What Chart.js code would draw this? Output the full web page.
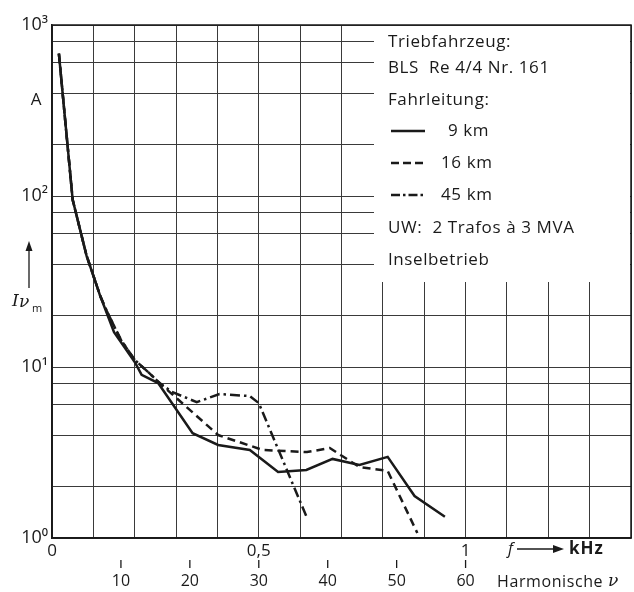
<!DOCTYPE html>
<html><head><meta charset="utf-8">
<style>html,body{margin:0;padding:0;background:#fff}#wrap{width:634px;height:592px;position:relative}</style>
</head><body><div id="wrap"><canvas id="c" width="634" height="592"></canvas></div>
<script src="https://cdn.jsdelivr.net/npm/chart.js@4.4.0/dist/chart.umd.min.js"></script>
<script>
// Harmonic number ν (fundamental 16 2/3 Hz) and current amplitude in A
const nu9km  = [1, 3, 5, 7, 9, 12, 13, 15.4, 20.4, 24.1, 28.7, 32.8, 36.9, 40.7, 44.6, 48.7, 52.6, 57];
const amp9km = [680, 95, 45, 26, 16, 10.7, 9.0, 8.06, 4.1, 3.5, 3.27, 2.43, 2.5, 2.9, 2.67, 2.98, 1.76, 1.33];

const nu16km  = [1, 3, 5, 7, 8, 10, 12, 14, 15.6, 24.1, 30.6, 37, 40.3, 44.6, 48.7, 53];
const amp16km = [680, 95, 45, 26, 21, 14.4, 11, 9.3, 8.06, 4.0, 3.27, 3.18, 3.36, 2.6, 2.47, 1.07];

const nu45km  = [1, 3, 5, 7, 8, 10, 12, 14, 15.6, 17.4, 21, 24.3, 28.7, 30, 37];
const amp45km = [680, 95, 45, 26, 21, 14.4, 11, 9.3, 8.06, 7.15, 6.23, 6.95, 6.76, 6.15, 1.31];

const yGridValues = [1, 2, 4, 6, 8, 10, 20, 40, 60, 80, 100, 200, 400, 600, 800, 1000];
const yDecadeLabels = {1: '10⁰', 10: '10¹', 100: '10²', 1000: '10³'};
const freqTickLabels = {0: '0', 30: '0,5', 60: '1'};   // ν 30 = 0,5 kHz, ν 60 = 1 kHz
const harmonicTicks = [10, 20, 30, 40, 50, 60];
const legendHeader = ['Triebfahrzeug:', 'BLS  Re 4/4 Nr. 161', 'Fahrleitung:'];
const seriesNames = ['9 km', '16 km', '45 km'];
const legendFooter = ['UW:  2 Trafos à 3 MVA', 'Inselbetrieb'];

const FONT = '"Open Sans", "DejaVu Sans", sans-serif';
const INK = '#1a1a1a';
const GRID = '#3a3a3a';

function pts(xs, ys) { return xs.map((x, i) => ({x: x, y: ys[i]})); }

const dashes = [[], [8, 5], [10, 4, 2.5, 4]];

const extras = {
  id: 'extras',
  beforeDatasetsDraw(chart) {
    const ctx = chart.ctx, a = chart.chartArea;
    ctx.save();
    ctx.fillStyle = '#fff';
    ctx.fillRect(374, a.top + 1, a.right - 374 - 1, 282 - a.top - 1);
    ctx.restore();
  },
  afterDraw(chart) {
    const ctx = chart.ctx, a = chart.chartArea;
    const xs = chart.scales.x;
    ctx.save();
    // frame
    ctx.strokeStyle = INK; ctx.lineWidth = 1.5;
    ctx.strokeRect(a.left, a.top, a.right - a.left, a.bottom - a.top);
    ctx.fillStyle = INK;
    ctx.textBaseline = 'middle';
    // legend text
    ctx.font = '17px ' + FONT;
    ctx.letterSpacing = '0.6px';
    ctx.textAlign = 'left';
    const lx = 388;
    ctx.fillText(legendHeader[0], lx, 42);
    ctx.fillText(legendHeader[1], lx, 68);
    ctx.fillText(legendHeader[2], lx, 100);
    const rows = [131, 163, 195];
    const txtX = [448, 441, 441];
    rows.forEach((y, i) => {
      ctx.save();
      ctx.strokeStyle = INK; ctx.lineWidth = 2.6;
      ctx.setLineDash(i === 0 ? [] : (i === 1 ? [8, 4] : [9, 3, 2.5, 3]));
      ctx.beginPath(); ctx.moveTo(391, y); ctx.lineTo(425, y); ctx.stroke();
      ctx.restore();
      ctx.fillText(seriesNames[i], txtX[i], y);
    });
    ctx.fillText(legendFooter[0], lx, 228);
    ctx.fillText(legendFooter[1], lx, 260);
    ctx.letterSpacing = '0px';
    // unit and axis title
    ctx.font = '17px ' + FONT;
    ctx.textAlign = 'center';
    ctx.fillText('A', 36, 100);
    ctx.lineWidth = 1.3; ctx.strokeStyle = INK;
    ctx.beginPath(); ctx.moveTo(29, 288); ctx.lineTo(29, 248); ctx.stroke();
    ctx.beginPath(); ctx.moveTo(29, 241); ctx.lineTo(25.5, 251); ctx.lineTo(32.5, 251); ctx.closePath(); ctx.fill();
    ctx.textAlign = 'left';
    ctx.font = 'italic 17px "DejaVu Serif", serif';
    ctx.fillText('I', 12, 302);
    ctx.fillText('ν', 19, 303);
    ctx.font = '11px ' + FONT;
    ctx.fillText('m', 32, 309);
    // f -> kHz
    ctx.font = 'italic 16px ' + FONT;
    ctx.fillText('f', 508, 549);
    ctx.beginPath(); ctx.moveTo(517, 549); ctx.lineTo(556, 549); ctx.stroke();
    ctx.beginPath(); ctx.moveTo(564, 549); ctx.lineTo(553, 545); ctx.lineTo(553, 553); ctx.closePath(); ctx.fill();
    ctx.font = 'bold 17px ' + FONT;
    ctx.letterSpacing = '1px';
    ctx.fillText('kHz', 569, 549);
    ctx.letterSpacing = '0px';
    // harmonic ticks
    ctx.font = '16px ' + FONT;
    ctx.textAlign = 'center';
    ctx.lineWidth = 1.3;
    harmonicTicks.forEach(h => {
      const x = xs.getPixelForValue(h);
      ctx.beginPath(); ctx.moveTo(x, 560); ctx.lineTo(x, 568); ctx.stroke();
      ctx.fillText(String(h), x, 581);
    });
    ctx.textAlign = 'left';
    ctx.letterSpacing = '0.6px';
    ctx.fillText('Harmonische ', 497, 582);
    const w = ctx.measureText('Harmonische ').width;
    ctx.letterSpacing = '0px';
    ctx.font = 'italic 17px "DejaVu Serif", serif';
    ctx.fillText('ν', 497 + w, 582);
    ctx.restore();
  }
};

new Chart(document.getElementById('c'), {
  type: 'scatter',
  data: {
    datasets: [
      {label: seriesNames[0], data: pts(nu9km, amp9km)},
      {label: seriesNames[1], data: pts(nu16km, amp16km)},
      {label: seriesNames[2], data: pts(nu45km, amp45km)}
    ].map((d, i) => Object.assign(d, {
      showLine: true, borderColor: INK, borderWidth: 2.5, borderDash: dashes[i],
      pointRadius: 0, tension: 0, fill: false
    })).reverse()
  },
  options: {
    responsive: false, animation: false, devicePixelRatio: 1,
    layout: {padding: {top: 25, right: 2, left: 0, bottom: 0}},
    plugins: {legend: {display: false}, tooltip: {enabled: false}},
    scales: {
      x: {
        type: 'linear', min: 0, max: 84,
        afterBuildTicks(s) { const t = []; for (let v = 0; v <= 84; v += 6) t.push({value: v}); s.ticks = t; },
        afterFit(s) { s.height = 54; },
        grid: {color: GRID, lineWidth: 1, drawTicks: false},
        border: {color: INK, width: 1.5},
        ticks: {
          padding: 3, color: INK, font: {family: FONT, size: 17}, maxRotation: 0, autoSkip: false,
          callback: v => (v in freqTickLabels ? freqTickLabels[v] : '')
        }
      },
      y: {
        type: 'logarithmic', min: 1, max: 1000,
        afterBuildTicks(s) { s.ticks = yGridValues.map(v => ({value: v})); },
        afterFit(s) { s.width = 52; },
        grid: {color: GRID, lineWidth: 1, drawTicks: false},
        border: {color: INK, width: 1.5},
        ticks: {
          padding: 4, color: INK, font: {family: FONT, size: 18}, autoSkip: false,
          callback: v => (v in yDecadeLabels ? yDecadeLabels[v] : '')
        }
      }
    }
  },
  plugins: [extras]
});
</script></body></html>
